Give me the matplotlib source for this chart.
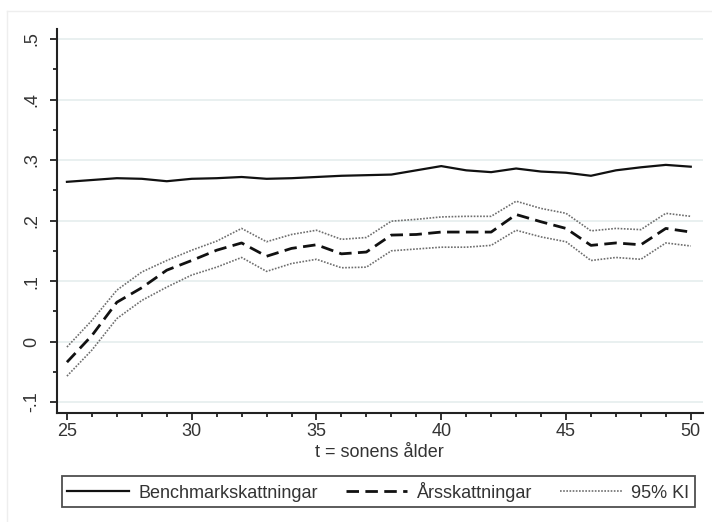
import numpy as np
import matplotlib.pyplot as plt
from matplotlib.ticker import MultipleLocator

# -----------------------------
# Data
# -----------------------------
ages = list(range(25, 51))

benchmark = [0.264, 0.267, 0.270, 0.269, 0.265, 0.269, 0.270, 0.272, 0.269,
             0.270, 0.272, 0.274, 0.275, 0.276, 0.283, 0.290, 0.283, 0.280,
             0.286, 0.281, 0.279, 0.274, 0.283, 0.288, 0.292, 0.289]

yearly = [-0.034, 0.010, 0.065, 0.089, 0.118, 0.134, 0.151, 0.163, 0.141,
          0.154, 0.160, 0.145, 0.148, 0.176, 0.177, 0.181, 0.181, 0.181,
          0.210, 0.198, 0.187, 0.159, 0.163, 0.160, 0.187, 0.181]

ci_upper = [-0.009, 0.035, 0.085, 0.115, 0.134, 0.151, 0.166, 0.187, 0.165,
            0.177, 0.184, 0.169, 0.172, 0.199, 0.202, 0.206, 0.207, 0.207,
            0.232, 0.220, 0.212, 0.183, 0.187, 0.185, 0.212, 0.207]

ci_lower = [-0.057, -0.014, 0.038, 0.068, 0.090, 0.110, 0.123, 0.139, 0.116,
            0.129, 0.136, 0.122, 0.123, 0.150, 0.153, 0.156, 0.156, 0.159,
            0.184, 0.173, 0.165, 0.134, 0.139, 0.136, 0.163, 0.158]

y_ticks = [-0.1, 0.0, 0.1, 0.2, 0.3, 0.4, 0.5]
y_labels = ["-.1", "0", ".1", ".2", ".3", ".4", ".5"]
x_ticks = [25, 30, 35, 40, 45, 50]

labels = ["Benchmarkskattningar", "Årsskattningar", "95% KI"]

# -----------------------------
# Style
# -----------------------------
plt.rcParams['font.family'] = ['Liberation Sans', 'DejaVu Sans']
FONT = 13
TXT = "#333333"
AX = "#222222"

fig = plt.figure(figsize=(7.12, 5.22), dpi=100)
ax = fig.add_axes([0.080, 0.2088, 0.907, 0.7356])

ax.plot(ages, benchmark, color="#111111", lw=1.6, solid_joinstyle="round")
ax.plot(ages, yearly, color="#111111", lw=2.0, dashes=(4.5, 2.3))
ax.plot(ages, ci_upper, color="#6e6e6e", lw=1.2, linestyle=(0, (1, 0.9)))
ax.plot(ages, ci_lower, color="#6e6e6e", lw=1.2, linestyle=(0, (1, 0.9)))

ax.set_xlim(24.6, 50.48)
ax.set_ylim(-0.118, 0.5165)

for y in y_ticks:
    ax.axhline(y, color="#e9f0f0", lw=1.4, zorder=0)

ax.set_yticks(y_ticks)
ax.set_yticklabels(y_labels, rotation=90, va="center")
ax.set_xticks(x_ticks)
ax.xaxis.set_minor_locator(MultipleLocator(1))
ax.yaxis.set_minor_locator(MultipleLocator(0.05))

ax.tick_params(axis="both", which="major", length=5, width=1.3, colors=AX,
               labelsize=FONT, labelcolor=TXT)
ax.tick_params(axis="both", which="minor", length=3, width=1.3, colors=AX)
ax.tick_params(axis="x", which="major", pad=2)
ax.tick_params(axis="y", which="major", pad=7)

for s in ["top", "right"]:
    ax.spines[s].set_visible(False)
for s in ["left", "bottom"]:
    ax.spines[s].set_linewidth(1.5)
    ax.spines[s].set_color(AX)

ax.set_xlabel("t = sonens ålder", fontsize=FONT, color=TXT, labelpad=3)

# faint outer graph frame
fig.add_artist(plt.Line2D([7 / 712, 7 / 712], [0, 1 - 11 / 522],
                          color="#eeeeee", lw=1, transform=fig.transFigure))
fig.add_artist(plt.Line2D([7 / 712, 1], [1 - 11 / 522, 1 - 11 / 522],
                          color="#eeeeee", lw=1, transform=fig.transFigure))

handles = ax.get_lines()[:3]
leg = fig.legend(handles, labels, ncol=3, mode="expand",
                 bbox_to_anchor=(62 / 712, 15 / 522, 633 / 712, 35 / 522),
                 loc="lower left", fontsize=FONT, handlelength=3.4,
                 handletextpad=0.55, borderaxespad=0, fancybox=False,
                 frameon=True, borderpad=0.3, columnspacing=0.8)
leg.get_frame().set_edgecolor("#222222")
leg.get_frame().set_linewidth(1.3)
for t in leg.get_texts():
    t.set_color(TXT)

fig.savefig("out.png", dpi=100)
